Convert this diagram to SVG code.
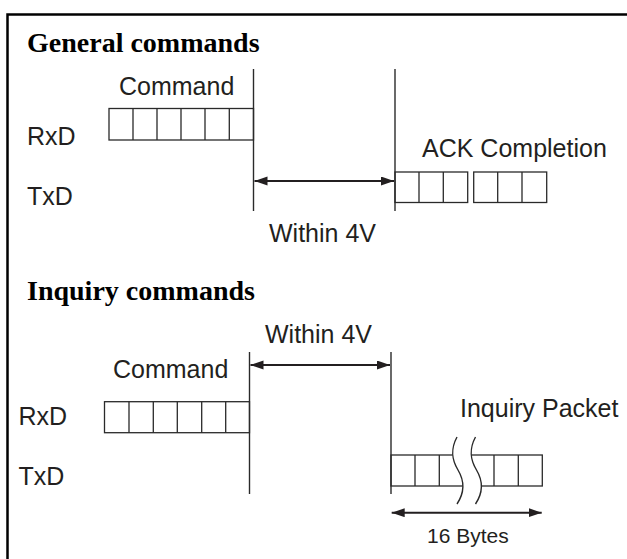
<svg xmlns="http://www.w3.org/2000/svg" width="627" height="559" viewBox="0 0 627 559">
<defs>
<style>
.h{font-family:"Liberation Serif","Times New Roman",serif;font-weight:bold;font-size:28px;fill:#000}
.t{font-family:"Liberation Sans",Arial,sans-serif;font-size:25px;fill:#231f20}
.s{font-family:"Liberation Sans",Arial,sans-serif;font-size:21px;fill:#231f20}
.cell{fill:none;stroke:#2a2a2a;stroke-width:1.3}
.vl{stroke:#2a2a2a;stroke-width:1.4;fill:none}
.arr{stroke:#231f20;stroke-width:2;fill:none;marker-start:url(#ah);marker-end:url(#ah)}
.wave{fill:none;stroke:#2a2a2a;stroke-width:1.4}
</style>
<marker id="ah" markerUnits="userSpaceOnUse" markerWidth="14" markerHeight="10" refX="13" refY="4.5" orient="auto-start-reverse">
<path d="M0,0 L13,4.5 L0,9 Z" fill="#231f20"/>
</marker>
</defs>
<rect width="627" height="559" fill="#fff"/>
<path d="M7.5,559 V14.5 H627" fill="none" stroke="#000" stroke-width="2.5"/>

<g id="general">
<text class="h" x="27" y="52">General commands</text>
<g id="g-labels">
<text class="t" x="27" y="145">RxD</text>
<text class="t" x="27" y="205">TxD</text>
</g>
<g id="g-command">
<text class="t" x="119" y="95">Command</text>
<rect class="cell" x="109" y="108.5" width="144.5" height="31.5"/>
<path class="cell" d="M133,108.5V140 M157,108.5V140 M181,108.5V140 M205,108.5V140 M229.3,108.5V140"/>
</g>
<g id="g-ack">
<text class="t" x="422" y="157">ACK Completion</text>
<rect class="cell" x="395" y="172" width="72.7" height="30.5"/>
<path class="cell" d="M419,172V202.5 M443.3,172V202.5"/>
<rect class="cell" x="473.7" y="172" width="73" height="30.5"/>
<path class="cell" d="M497.7,172V202.5 M522,172V202.5"/>
</g>
<g id="g-timing">
<text class="t" x="269" y="242">Within 4V</text>
</g>
</g>

<g id="inquiry">
<text class="h" x="27" y="300">Inquiry commands</text>
<g id="i-labels">
<text class="t" x="18.5" y="425">RxD</text>
<text class="t" x="18.5" y="485">TxD</text>
</g>
<g id="i-command">
<text class="t" x="113" y="378">Command</text>
<rect class="cell" x="104.5" y="401.7" width="145" height="31"/>
<path class="cell" d="M129,401.7V432.7 M153.3,401.7V432.7 M177.3,401.7V432.7 M201.7,401.7V432.7 M225.7,401.7V432.7"/>
</g>
<g id="i-packet">
<text class="t" x="460" y="417">Inquiry Packet</text>
<rect class="cell" x="391" y="455" width="151.3" height="31"/>
<path class="cell" d="M415,455V486 M439.3,455V486 M494,455V486 M518.3,455V486"/>
<path d="M457,437 C450,450 452,460 458,470 C464,480 465,492 457,504 L475.5,504 C483.5,492 482.5,480 476.5,470 C470.5,460 468.5,450 475.5,437 Z" fill="#fff"/>
<path class="wave" d="M457,437 C450,450 452,460 458,470 C464,480 465,492 457,504"/>
<path class="wave" d="M475.5,437 C468.5,450 470.5,460 476.5,470 C482.5,480 483.5,492 475.5,504"/>
<text class="s" x="427" y="543">16 Bytes</text>
</g>
<g id="i-timing">
<text class="t" x="265" y="343">Within 4V</text>
</g>
</g>

<g id="connectors">
<line class="vl" x1="253.5" y1="69" x2="253.5" y2="211"/>
<line class="vl" x1="395" y1="69" x2="395" y2="211"/>
<line class="arr" x1="254.5" y1="181" x2="394" y2="181"/>
<line class="vl" x1="249.5" y1="352" x2="249.5" y2="494"/>
<line class="vl" x1="391" y1="352" x2="391" y2="494"/>
<line class="arr" x1="250.5" y1="365" x2="390" y2="365"/>
<line class="arr" x1="391.7" y1="512.7" x2="541.7" y2="512.7"/>
</g>
</svg>
